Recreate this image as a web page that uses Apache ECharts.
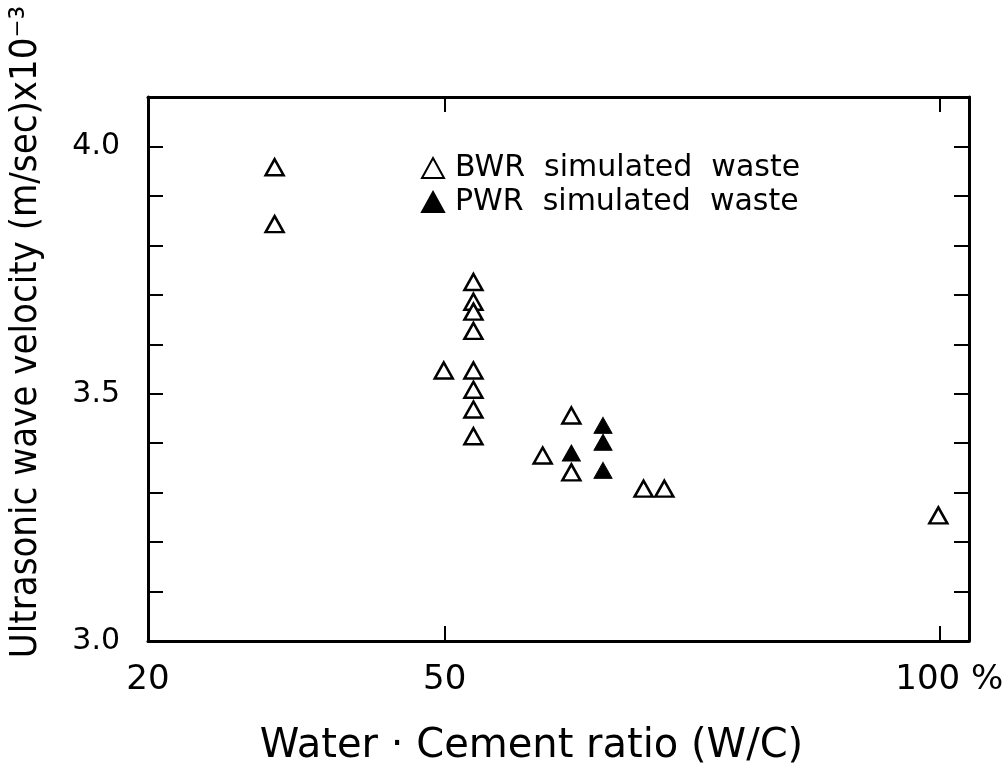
<!DOCTYPE html>
<html>
<head>
<meta charset="utf-8">
<script src="https://cdn.jsdelivr.net/npm/echarts@6/dist/echarts.min.js"></script>
<style>
html,body{margin:0;padding:0;background:#fff;}
#chart{width:1008px;height:772px;}
</style>
</head>
<body>
<div id="chart"></div>
<script>
// Data
const bwrX = [32.8, 32.8, 52.9, 52.9, 52.9, 52.9, 52.9, 52.9, 52.9, 52.9, 49.9, 62.8, 59.9, 62.8, 70.1, 72.2, 99.9];
const bwrY = [3.958, 3.843, 3.726, 3.686, 3.666, 3.627, 3.547, 3.508, 3.468, 3.414, 3.547, 3.456, 3.375, 3.341, 3.308, 3.308, 3.254];
const pwrX = [66.0, 66.0, 66.0, 62.8];
const pwrY = [3.436, 3.402, 3.345, 3.380];
const xLabelValues = [20, 50, 100];
const xTickValues = [50, 100];
const yLabelValues = [3.0, 3.5, 4.0];
const seriesNames = ['BWR  simulated  waste', 'PWR  simulated  waste'];
const xTitle = 'Water · Cement ratio (W/C)';
const yTitle = 'Ultrasonic wave velocity (m/sec)x10⁻³';

const FONT = 'DejaVu Sans';
const chart = echarts.init(document.getElementById('chart'), null, {renderer: 'canvas'});

const axisLineStyle = {color: '#000', width: 3};
const tickStyle = {color: '#000', width: 2};

function yFmt(v) {
  return yLabelValues.some(t => Math.abs(t - v) < 1e-6) ? v.toFixed(1) : '';
}

const option = {
  backgroundColor: '#fff',
  animation: false,
  grid: {left: 148, right: 39, top: 97, bottom: 130},
  legend: {
    orient: 'vertical',
    left: 416,
    top: 148,
    itemWidth: 22,
    itemHeight: 20,
    itemGap: 4,
    data: seriesNames.map(n => ({name: n, icon: 'triangle'})),
    textStyle: {fontFamily: FONT, fontSize: 30, lineHeight: 28, color: '#000', padding: [0, 0, 0, 6]}
  },
  xAxis: [{
    type: 'value', min: 20, max: 103, position: 'bottom',
    axisLine: {show: true, lineStyle: axisLineStyle},
    axisTick: {show: true, inside: true, length: 15, lineStyle: tickStyle, customValues: xTickValues},
    axisLabel: {show: true, customValues: xLabelValues, margin: 22,
      formatter: v => v === 100 ? '{p|100 %}' : String(v),
      rich: {p: {fontFamily: FONT, fontSize: 34, color: '#000', padding: [0, 0, 0, 20]}},
      fontFamily: FONT, fontSize: 34, color: '#000'},
    splitLine: {show: false},
    name: xTitle, nameLocation: 'middle', nameGap: 86,
    nameTextStyle: {fontFamily: FONT, fontSize: 40, color: '#000', padding: [0, 54, 0, 0]}
  }, {
    type: 'value', min: 20, max: 103, position: 'top',
    axisLine: {show: true, lineStyle: axisLineStyle},
    axisTick: {show: true, inside: true, length: 15, lineStyle: tickStyle, customValues: xTickValues},
    axisLabel: {show: false},
    splitLine: {show: false}
  }],
  yAxis: [{
    type: 'value', min: 3.0, max: 4.1, interval: 0.1, position: 'left',
    axisLine: {show: true, lineStyle: axisLineStyle},
    axisTick: {show: true, inside: true, length: 15, lineStyle: tickStyle},
    axisLabel: {formatter: yFmt, margin: 28, fontFamily: FONT, fontSize: 30, color: '#000'},
    splitLine: {show: false}
  }, {
    type: 'value', min: 3.0, max: 4.1, interval: 0.1, position: 'right',
    axisLine: {show: true, lineStyle: axisLineStyle},
    axisTick: {show: true, inside: true, length: 15, lineStyle: tickStyle},
    axisLabel: {show: false},
    splitLine: {show: false}
  }],
  graphic: [{
    type: 'text',
    x: 26, y: 332,
    rotation: Math.PI / 2,
    style: {
      text: yTitle,
      align: 'center', verticalAlign: 'middle',
      fontFamily: 'DejaVu Sans Condensed', fontSize: 38, fill: '#000'
    }
  }],
  series: [{
    name: seriesNames[0], type: 'scatter',
    symbol: 'triangle', symbolSize: [18, 16],
    itemStyle: {color: '#fff', borderColor: '#000', borderWidth: 2.5, opacity: 1},
    data: bwrX.map((x, i) => [x, bwrY[i]]), z: 3
  }, {
    name: seriesNames[1], type: 'scatter',
    symbol: 'triangle', symbolSize: [18, 16],
    itemStyle: {color: '#000', borderColor: '#000', borderWidth: 1, opacity: 1},
    data: pwrX.map((x, i) => [x, pwrY[i]]), z: 4
  }]
};
chart.setOption(option);
</script>
</body>
</html>
